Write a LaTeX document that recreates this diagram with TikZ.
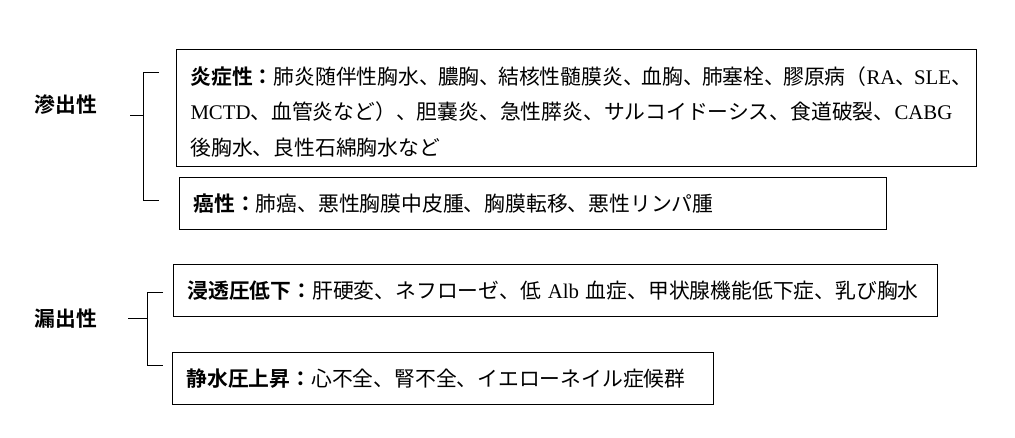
\documentclass[tikz,border=0pt]{standalone}
\usepackage{fontspec}
\setmainfont{Noto Sans CJK JP}[BoldFont={Noto Sans CJK JP Bold}]
\newfontfamily\latf{Liberation Serif}
\newcommand{\lt}[1]{{\latf #1}}
\newcommand{\tc}{、\kern-0.1em\relax}
\begin{document}
\begin{tikzpicture}[x=1pt,y=-1pt,
  box/.style={draw, line width=1pt, anchor=north west, inner xsep=14pt, inner ysep=0pt,
    align=left, font=\fontsize{20.8}{35.5}\selectfont},
  lbl/.style={font=\bfseries\fontsize{20.8}{24}\selectfont, inner sep=0pt},
  brk/.style={line width=1pt}]
\useasboundingbox (0,0) rectangle (1015,438);

% boxes
\node[box, text width=772pt, minimum height=117pt] (b1) at (176,49)
  {\rule{0pt}{24.8pt}\textbf{炎症性：}肺炎随伴性胸水\tc 膿胸\tc 結核性髄膜炎\tc 血胸\tc 肺塞栓\tc 膠原病（\lt{RA}\tc\lt{SLE}、\\
   \lt{MCTD}、血管炎など）、胆嚢炎、急性膵炎、サルコイドーシス、食道破裂、\lt{CABG}\\
   後胸水、良性石綿胸水など};
\node[box, text width=679pt, minimum height=52pt] (b2) at (179,177)
  {\textbf{癌性：}肺癌、悪性胸膜中皮腫、胸膜転移、悪性リンパ腫};
\node[box, text width=736pt, minimum height=52pt] (b3) at (173,264)
  {\textbf{浸透圧低下：}肝硬変、ネフローゼ、低\lt{ Alb }血症、甲状腺機能低下症、乳び胸水};
\node[box, text width=513pt, minimum height=52pt] (b4) at (172,352)
  {\textbf{静水圧上昇：}心不全、腎不全、イエローネイル症候群};

% labels
\node[lbl] (l1) at (66,105) {滲出性};
\node[lbl] (l2) at (66,319) {漏出性};

% bracket 1
\coordinate (m1) at (130,116);
\coordinate (j1) at (143,116);
\coordinate (v1a) at (143,73);
\coordinate (v1b) at (143,201);
\coordinate (s1a) at (159,73);
\coordinate (s1b) at (159,201);
\draw[brk] (m1) -- (j1);
\draw[brk] (s1a) -- (v1a) -- (v1b) -- (s1b);

% bracket 2
\coordinate (m2) at (128,319);
\coordinate (j2) at (147,319);
\coordinate (v2a) at (147,293);
\coordinate (v2b) at (147,366);
\coordinate (s2a) at (163,293);
\coordinate (s2b) at (163,366);
\draw[brk] (m2) -- (j2);
\draw[brk] (s2a) -- (v2a) -- (v2b) -- (s2b);
\end{tikzpicture}
\end{document}
